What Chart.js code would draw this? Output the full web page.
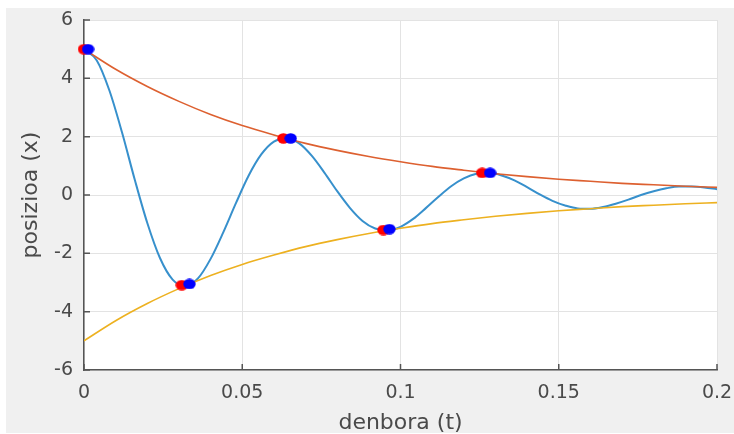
<!DOCTYPE html>
<html>
<head>
<meta charset="utf-8">
<script src="https://cdn.jsdelivr.net/npm/chart.js@4/dist/chart.umd.min.js"></script>
<style>
  html, body { margin: 0; padding: 0; background: #ffffff; overflow: hidden; }
  canvas { display: block; }
</style>
</head>
<body>
<canvas id="chart" width="734" height="434"></canvas>
<script>
// Sample times (s) and measured position of the damped oscillation
const timeSamples = [0, 0.004, 0.008, 0.012, 0.016, 0.02, 0.024, 0.028, 0.032, 0.036,
  0.04, 0.044, 0.048, 0.052, 0.056, 0.06, 0.064, 0.068, 0.072, 0.076,
  0.08, 0.084, 0.088, 0.092, 0.096, 0.1, 0.104, 0.108, 0.112, 0.116,
  0.12, 0.124, 0.128, 0.132, 0.136, 0.14, 0.144, 0.148, 0.152, 0.156,
  0.16, 0.164, 0.168, 0.172, 0.176, 0.18, 0.184, 0.188, 0.192, 0.196, 0.2];
const positionValues = [5.00, 4.62, 3.59, 2.15, 0.54, -0.96, -2.16, -2.90, -3.12, -2.86,
  -2.19, -1.28, -0.28, 0.66, 1.39, 1.83, 1.95, 1.77, 1.34, 0.76,
  0.13, -0.44, -0.89, -1.15, -1.22, -1.09, -0.82, -0.45, -0.06, 0.30,
  0.57, 0.73, 0.76, 0.67, 0.50, 0.27, 0.02, -0.20, -0.36, -0.46,
  -0.47, -0.41, -0.30, -0.16, 0.00, 0.13, 0.23, 0.29, 0.29, 0.26, 0.20];

// Decay envelope
const envelopeTimes = [0, 0.01, 0.02, 0.03, 0.04, 0.05, 0.06, 0.07, 0.08, 0.09, 0.1,
  0.11, 0.12, 0.13, 0.14, 0.15, 0.16, 0.17, 0.18, 0.19, 0.2];
const envelopeUpper = [5.00, 4.31, 3.72, 3.21, 2.76, 2.38, 2.06, 1.77, 1.53, 1.32, 1.14,
  0.98, 0.85, 0.73, 0.63, 0.54, 0.47, 0.40, 0.35, 0.30, 0.26];
const envelopeLower = [-5.00, -4.31, -3.72, -3.21, -2.76, -2.38, -2.06, -1.77, -1.53, -1.32, -1.14,
  -0.98, -0.85, -0.73, -0.63, -0.54, -0.47, -0.40, -0.35, -0.30, -0.26];

// Extrema picked out by the two peak detectors
const peakTimesA = [0, 0.0309, 0.063, 0.0946, 0.1258];
const peakValuesA = [5.0, -3.09, 1.94, -1.2, 0.76];
const peakTimesB = [0.0013, 0.0333, 0.0653, 0.0965, 0.1283];
const peakValuesB = [5.0, -3.05, 1.94, -1.17, 0.76];

// Axis tick labels
const xTickLabels = ['0', '0.05', '0.1', '0.15', '0.2'];
const yTickLabels = ['-6', '-4', '-2', '0', '2', '4', '6'];

const toPoints = (xs, ys) => xs.map((x, i) => ({ x: x, y: ys[i] }));

const FONT = 'DejaVu Sans';
const TEXT_COLOR = '#4a4a4a';
const AXIS_COLOR = '#555555';
const GRID_COLOR = '#e3e3e3';

function ellipseMarker(color) {
  const c = document.createElement('canvas');
  c.width = 13; c.height = 11;
  const g = c.getContext('2d');
  g.fillStyle = color;
  g.beginPath();
  g.ellipse(6.5, 5.5, 6.2, 5.2, 0, 0, Math.PI * 2);
  g.fill();
  return c;
}

const panelBackground = {
  id: 'panelBackground',
  beforeDraw(chart) {
    const { ctx, chartArea: a } = chart;
    ctx.save();
    ctx.fillStyle = '#ffffff';
    ctx.fillRect(0, 0, chart.width, chart.height);
    ctx.fillStyle = '#f0f0f0';
    ctx.fillRect(6, 8, chart.width - 6, chart.height - 9);
    ctx.fillStyle = '#ffffff';
    ctx.fillRect(a.left, a.top, a.right - a.left, a.bottom - a.top);
    ctx.restore();
  }
};

// Tick marks pointing into the plot area
const inwardTicks = {
  id: 'inwardTicks',
  beforeDatasetsDraw(chart) {
    const { ctx, chartArea: a, scales: { x, y } } = chart;
    ctx.save();
    ctx.strokeStyle = AXIS_COLOR;
    ctx.lineWidth = 1.5;
    ctx.beginPath();
    x.ticks.forEach(t => {
      const px = x.getPixelForValue(t.value);
      ctx.moveTo(px, a.bottom);
      ctx.lineTo(px, a.bottom - 6);
    });
    y.ticks.forEach(t => {
      const py = y.getPixelForValue(t.value);
      ctx.moveTo(a.left, py);
      ctx.lineTo(a.left + 6, py);
    });
    ctx.stroke();
    ctx.restore();
  }
};

// Let the layout padding alone decide where the plot area ends
function clearLabelOverhang(scale) {
  scale.paddingLeft = 0;
  scale.paddingRight = 0;
  scale.paddingTop = 0;
  scale.paddingBottom = 0;
}

new Chart(document.getElementById('chart'), {
  type: 'scatter',
  data: {
    datasets: [
      {
        data: toPoints(peakTimesB, peakValuesB),
        pointStyle: ellipseMarker('#0000ff'),
        pointRadius: 6,
        showLine: false,
        clip: false,
        order: 1
      },
      {
        data: toPoints(peakTimesA, peakValuesA),
        pointStyle: ellipseMarker('#ff0000'),
        pointRadius: 6,
        showLine: false,
        clip: false,
        order: 2
      },
      {
        data: toPoints(envelopeTimes, envelopeLower),
        showLine: true,
        borderColor: '#edb120',
        borderWidth: 1.6,
        pointRadius: 0,
        cubicInterpolationMode: 'monotone',
        order: 3
      },
      {
        data: toPoints(envelopeTimes, envelopeUpper),
        showLine: true,
        borderColor: '#dd6030',
        borderWidth: 1.6,
        pointRadius: 0,
        cubicInterpolationMode: 'monotone',
        order: 4
      },
      {
        data: toPoints(timeSamples, positionValues),
        showLine: true,
        borderColor: '#3790cc',
        borderWidth: 2,
        pointRadius: 0,
        cubicInterpolationMode: 'monotone',
        order: 5
      }
    ]
  },
  options: {
    responsive: false,
    animation: false,
    devicePixelRatio: 1,
    layout: { padding: { left: 0, top: 20, right: 17, bottom: 0 } },
    plugins: { legend: { display: false }, tooltip: { enabled: false } },
    scales: {
      x: {
        type: 'linear',
        min: 0,
        max: 0.2,
        afterFit(scale) { scale.height = 64; clearLabelOverhang(scale); },
        ticks: {
          stepSize: 0.05,
          autoSkip: false,
          maxRotation: 0,
          padding: 12,
          color: TEXT_COLOR,
          font: { family: FONT, size: 19 },
          callback: (v, i) => xTickLabels[i]
        },
        grid: { color: GRID_COLOR, lineWidth: 1, drawTicks: false },
        border: { color: AXIS_COLOR, width: 1.5 },
        title: {
          display: true,
          text: 'denbora (t)',
          color: TEXT_COLOR,
          font: { family: FONT, size: 22, lineHeight: 1 },
          padding: 0
        }
      },
      y: {
        type: 'linear',
        min: -6,
        max: 6,
        afterFit(scale) { scale.width = 84; clearLabelOverhang(scale); },
        ticks: {
          stepSize: 2,
          padding: 11,
          color: TEXT_COLOR,
          font: { family: FONT, size: 19 },
          callback: (v, i) => yTickLabels[i]
        },
        grid: { color: GRID_COLOR, lineWidth: 1, drawTicks: false },
        border: { color: AXIS_COLOR, width: 1.5 },
        title: {
          display: true,
          text: 'posizioa (x)',
          color: TEXT_COLOR,
          font: { family: FONT, size: 22, lineHeight: 1.2 },
          padding: { top: 18, bottom: 0 }
        }
      }
    }
  },
  plugins: [panelBackground, inwardTicks]
});
</script>
</body>
</html>
